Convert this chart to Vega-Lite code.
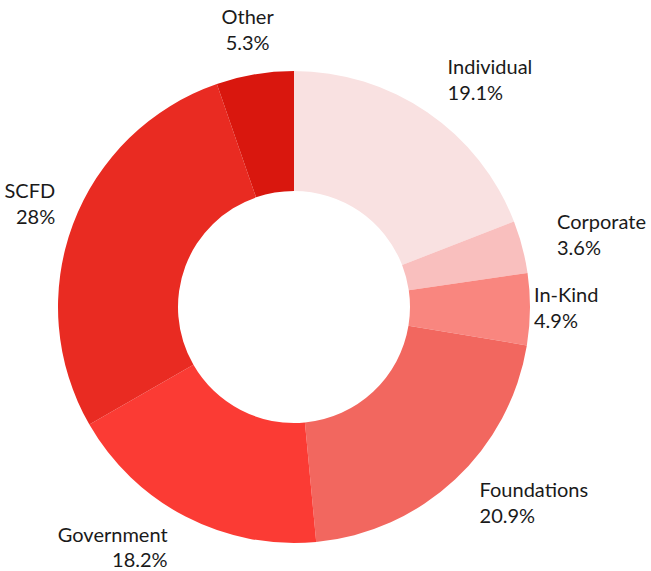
{
  "$schema": "https://vega.github.io/schema/vega-lite/v6.json",
  "autosize": {"type": "none"},
  "width": 588,
  "height": 528,
  "padding": {"left": 0, "top": 43, "right": 63, "bottom": 0},
  "background": "white",
  "data": {
    "values": [
      {"category": "Individual", "value": 19.1},
      {"category": "Corporate", "value": 3.6},
      {"category": "In-Kind", "value": 4.9},
      {"category": "Foundations", "value": 20.9},
      {"category": "Government", "value": 18.2},
      {"category": "SCFD", "value": 28},
      {"category": "Other", "value": 5.3}
    ]
  },
  "transform": [
    {"window": [{"op": "row_number", "as": "idx"}]},
    {"stack": "value", "groupby": [], "sort": [{"field": "idx", "order": "ascending"}], "as": ["v0", "v1"]},
    {"calculate": "(datum.v0 + datum.v1) / 2", "as": "mid"},
    {"calculate": "[datum.category, datum.value + '%']", "as": "lbl"}
  ],
  "layer": [
    {
      "mark": {"type": "arc", "innerRadius": 116, "outerRadius": 236},
      "encoding": {
        "theta": {"field": "v0", "type": "quantitative", "scale": {"domain": [0, 100]}},
        "theta2": {"field": "v1"},
        "color": {
          "field": "category",
          "type": "nominal",
          "scale": {
            "domain": ["Individual", "Corporate", "In-Kind", "Foundations", "Government", "SCFD", "Other"],
            "range": ["#f9e1e1", "#f9bfbe", "#f9867f", "#f2675f", "#fb3b34", "#e92b22", "#d9170e"]
          },
          "legend": null
        }
      }
    },
    {
      "transform": [{"filter": "datum.idx == 1 || datum.idx == 2 || datum.idx == 4"}],
      "mark": {"type": "text", "radius": 272, "font": "Lato", "fontSize": 20, "lineHeight": 26, "align": "left", "baseline": "middle", "dy": -15, "color": "#1a1a1a"},
      "encoding": {
        "theta": {"field": "mid", "type": "quantitative", "stack": null, "scale": {"domain": [0, 100]}},
        "text": {"field": "lbl"}
      }
    },
    {
      "transform": [{"filter": "datum.idx == 3"}],
      "mark": {"type": "text", "radius": 240, "font": "Lato", "fontSize": 20, "lineHeight": 26, "align": "left", "baseline": "middle", "dy": -13, "color": "#1a1a1a"},
      "encoding": {
        "theta": {"field": "mid", "type": "quantitative", "stack": null, "scale": {"domain": [0, 100]}},
        "text": {"field": "lbl"}
      }
    },
    {
      "transform": [{"filter": "datum.idx == 5"}],
      "mark": {"type": "text", "radius": 275, "font": "Lato", "fontSize": 20, "lineHeight": 25, "align": "right", "baseline": "middle", "dy": -15, "color": "#1a1a1a"},
      "encoding": {
        "theta": {"field": "mid", "type": "quantitative", "stack": null, "scale": {"domain": [0, 100]}},
        "text": {"field": "lbl"}
      }
    },
    {
      "transform": [{"filter": "datum.idx == 6"}],
      "mark": {"type": "text", "radius": 255, "font": "Lato", "fontSize": 20, "lineHeight": 26, "align": "right", "baseline": "middle", "dy": -26, "color": "#1a1a1a"},
      "encoding": {
        "theta": {"field": "mid", "type": "quantitative", "stack": null, "scale": {"domain": [0, 100]}},
        "text": {"field": "lbl"}
      }
    },
    {
      "transform": [{"filter": "datum.idx == 7"}],
      "mark": {"type": "text", "radius": 280, "font": "Lato", "fontSize": 20, "lineHeight": 26, "align": "center", "baseline": "middle", "dy": -13, "color": "#1a1a1a"},
      "encoding": {
        "theta": {"field": "mid", "type": "quantitative", "stack": null, "scale": {"domain": [0, 100]}},
        "text": {"field": "lbl"}
      }
    }
  ],
  "config": {"view": {"stroke": null}}
}
